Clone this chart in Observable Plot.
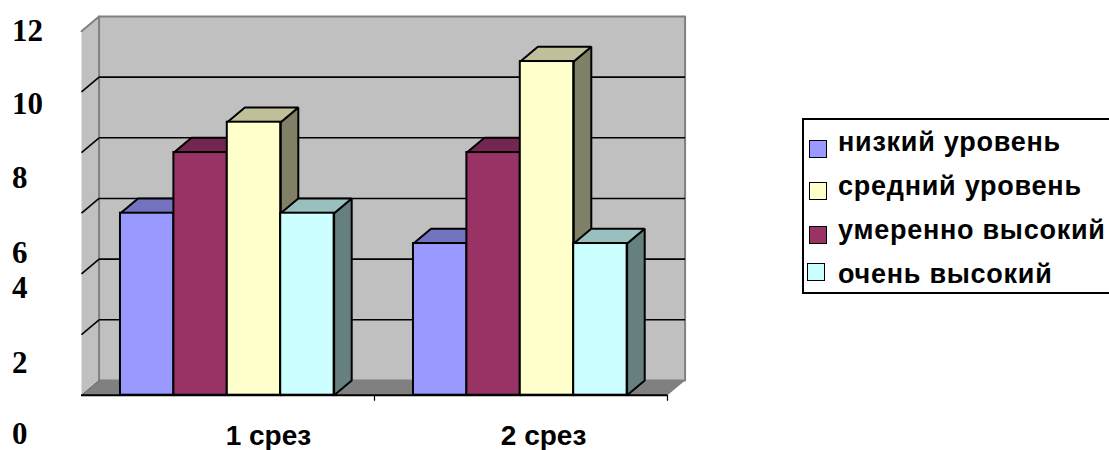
<!DOCTYPE html>
<html lang="ru">
<head>
<meta charset="utf-8">
<script src="https://cdn.jsdelivr.net/npm/d3@7"></script>
<script src="https://cdn.jsdelivr.net/npm/@observablehq/plot@0.6"></script>
<style>
  html, body { margin: 0; padding: 0; background: #fff; overflow: hidden; }
  #chart { position: relative; width: 1109px; height: 450px; overflow: hidden; }
  #legend {
    position: absolute; left: 802px; top: 118px; width: 400px; height: 172px;
    border: 2px solid #000; background: #fff; box-sizing: content-box;
  }
  #legend i { position: absolute; width: 16px; height: 16px; border: 1.5px solid #000; }
  #legend span {
    position: absolute; left: 34px; font: bold 27px/30px "Liberation Sans", Arial, sans-serif;
    letter-spacing: 0.75px; white-space: nowrap;
  }
</style>
</head>
<body>
<div id="chart"></div>
<script>
// Survey results for two rounds, one clustered 3D column group per round.
const rounds = ["1 срез", "2 срез"];
const series = ["низкий уровень", "средний уровень", "умеренно высокий", "очень высокий"];
const lowLevel = [6, 5];
const midLevel = [9, 11];
const fairlyHigh = [8, 8];
const veryHigh = [6, 5];
const seriesValues = [lowLevel, midLevel, fairlyHigh, veryHigh];

// Columns stand in this order inside a cluster (legend order differs).
const columnOrder = [0, 2, 1, 3];

const faceColors = ["#9999FF", "#FFFFCC", "#993366", "#CCFFFF"];
const topColors = ["#7373BF", "#BFBF99", "#732650", "#99BFBF"];
const sideColors = ["#66668A", "#808066", "#4D1933", "#668080"];

const gridValues = [2, 4, 6, 8, 10];
const axisLabels = ["12", "10", "8", "6", "4", "2", "0"];
const axisLabelRows = [12.0, 9.6, 7.17, 4.7, 3.54, 1.07, -1.27];
const axisLabelColumn = -0.237;
const roundLabelColumns = [0.638, 1.577];
const roundLabelRow = -1.33;

// Oblique depth of the box, in axis units.
const depthX = 0.06;
const depthY = 0.485;
const clusterInset = 0.133;
const columnWidth = 0.1823;
const yMax = 12;

// Legend rows: swatch column/row and text row.
const legendSwatchLeft = [5, 5, 5, 3];
const legendSwatchTop = [20, 62, 106, 143];
const legendTextTop = [7, 51, 95, 139];

const polygon = (id, fill, pts) =>
  [...pts, pts[0]].map(([x, y]) => ({id, fill, x, y}));

const backWall = polygon("back", "#C0C0C0", [[depthX, depthY], [2 + depthX, depthY], [2 + depthX, yMax + depthY], [depthX, yMax + depthY]]);
const sideWall = polygon("left", "#C0C0C0", [[0, 0], [depthX, depthY], [depthX, yMax + depthY], [0, yMax]]);
const floorPlane = polygon("floor", "#808080", [[0, 0], [2, 0], [2 + depthX, depthY], [depthX, depthY]]);

const columns = rounds.flatMap((_, r) => columnOrder.map((s, k) => {
  const x1 = r + clusterInset + k * columnWidth;
  return {s, r, x1, x2: x1 + columnWidth, y1: 0, y2: seriesValues[s][r]};
}));

const columnMarks = columns.flatMap((c) => {
  const key = `${c.r}-${c.s}`;
  const side = polygon(`side-${key}`, sideColors[c.s], [
    [c.x2, c.y1], [c.x2 + depthX, c.y1 + depthY], [c.x2 + depthX, c.y2 + depthY], [c.x2, c.y2]
  ]);
  const top = polygon(`top-${key}`, topColors[c.s], [
    [c.x1, c.y2], [c.x2, c.y2], [c.x2 + depthX, c.y2 + depthY], [c.x1 + depthX, c.y2 + depthY]
  ]);
  const outline = {stroke: "#000", strokeWidth: 2, strokeLinejoin: "miter"};
  return [
    Plot.line(side, {x: "x", y: "y", fill: "fill", ...outline}),
    Plot.line(top, {x: "x", y: "y", fill: "fill", ...outline}),
    Plot.rect([c], {x1: "x1", x2: "x2", y1: "y1", y2: "y2", fill: faceColors[c.s], ...outline})
  ];
});

const gridSegments = gridValues.flatMap((v) => [
  {x1: 0, y1: v, x2: depthX, y2: v + depthY},
  {x1: depthX, y1: v + depthY, x2: 2 + depthX, y2: v + depthY}
]);

const plot = Plot.plot({
  width: 1109,
  height: 450,
  margin: 0,
  style: {background: "transparent"},
  x: {domain: [0, 2], range: [81, 667], axis: null},
  y: {domain: [0, yMax], range: [394.7, 30.7], axis: null},
  color: {type: "identity"},
  marks: [
    Plot.line(sideWall, {x: "x", y: "y", fill: "fill", stroke: "none"}),
    Plot.line(backWall, {x: "x", y: "y", fill: "fill", stroke: "#808080", strokeWidth: 2}),
    Plot.line(floorPlane, {x: "x", y: "y", fill: "fill", stroke: "none"}),
    Plot.line([[0, yMax], [depthX, yMax + depthY]], {x: "0", y: "1", stroke: "#808080", strokeWidth: 2}),
    Plot.line([[0, 0], [depthX, depthY]], {x: "0", y: "1", stroke: "#606060", strokeWidth: 1}),
    Plot.link(gridSegments, {x1: "x1", y1: "y1", x2: "x2", y2: "y2", stroke: "#000", strokeWidth: 1.6}),
    Plot.ruleX([1, 2], {y1: 0, y2: -0.2, stroke: "#000", strokeWidth: 1.2}),
    ...columnMarks,
    Plot.ruleY([0], {x1: 0, x2: 2, stroke: "#000", strokeWidth: 2}),
    Plot.text(axisLabels, {
      x: () => axisLabelColumn, y: (_, i) => axisLabelRows[i], text: (d) => d, textAnchor: "start",
      fontFamily: "Liberation Serif", fontWeight: "bold", fontSize: 31, fill: "#000"
    }),
    Plot.text(rounds, {
      x: (_, i) => roundLabelColumns[i], y: () => roundLabelRow, text: (d) => d,
      fontFamily: "Liberation Sans", fontWeight: "bold", fontSize: 28, letterSpacing: "0.6px", fill: "#000"
    })
  ]
});

const chart = document.getElementById("chart");
chart.appendChild(plot);

// Legend panel, cut off by the right edge of the page.
const legend = document.createElement("div");
legend.id = "legend";
series.forEach((name, i) => {
  const swatch = document.createElement("i");
  swatch.style.left = legendSwatchLeft[i] + "px";
  swatch.style.top = legendSwatchTop[i] + "px";
  swatch.style.background = faceColors[i];
  legend.appendChild(swatch);
  const label = document.createElement("span");
  label.style.top = legendTextTop[i] + "px";
  label.textContent = name;
  legend.appendChild(label);
});
chart.appendChild(legend);
</script>
</body>
</html>
